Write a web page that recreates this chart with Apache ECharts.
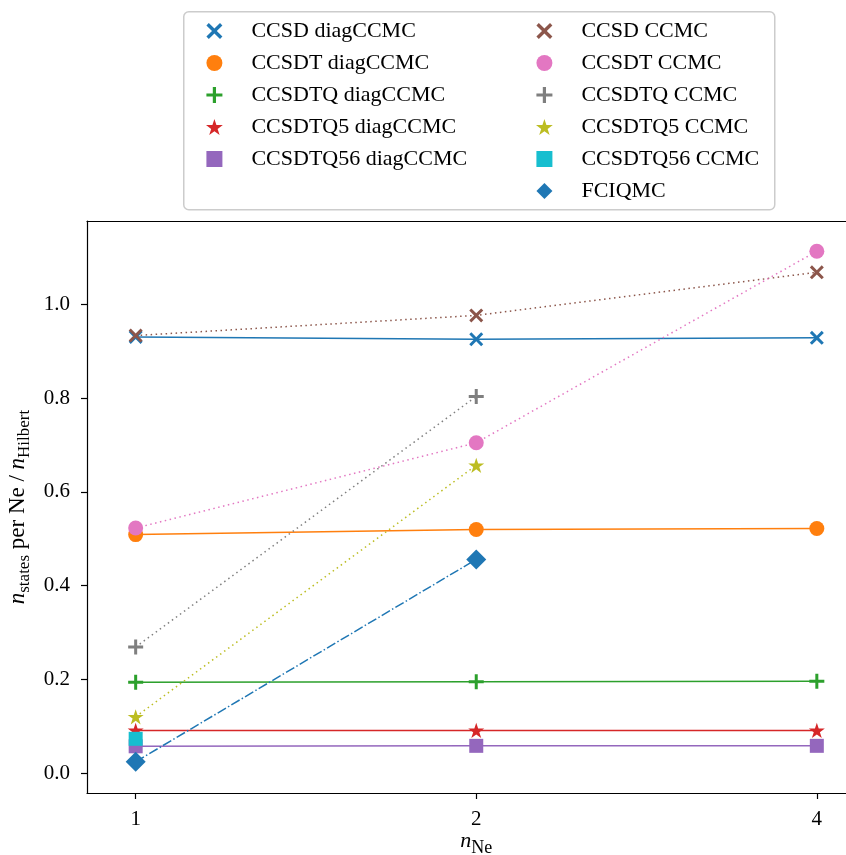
<!DOCTYPE html>
<html>
<head>
<meta charset="utf-8">
<script src="https://cdn.jsdelivr.net/npm/echarts@6/dist/echarts.min.js"></script>
<style>
html,body{margin:0;padding:0;background:#fff;}
#c{width:846px;height:855px;}
</style>
</head>
<body>
<div id="c"></div>
<script>
// ---- data ----
const nNe = [1, 2, 4];
const ccsdDiag = [0.931, 0.926, 0.929];
const ccsdtDiag = [0.509, 0.520, 0.522];
const ccsdtqDiag = [0.194, 0.195, 0.196];
const ccsdtq5Diag = [0.091, 0.091, 0.091];
const ccsdtq56Diag = [0.057, 0.058, 0.058];
const ccsdCCMC = [0.934, 0.977, 1.069];
const ccsdtCCMC = [0.523, 0.705, 1.114];
const ccsdtqCCMC = [0.269, 0.804];
const ccsdtq5CCMC = [0.120, 0.657];
const ccsdtq56CCMC = [0.073];
const fciqmc = [0.024, 0.456];
const xTicks = [1, 2, 4];
const yTicks = [0.0, 0.2, 0.4, 0.6, 0.8, 1.0];

const FONT = 'Liberation Serif';
const X_PATH = 'path://M1.5,0 L5,3.5 L8.5,0 L10,1.5 L6.5,5 L10,8.5 L8.5,10 L5,6.5 L1.5,10 L0,8.5 L3.5,5 L0,1.5 Z';
const PLUS_PATH = 'path://M4,0 H6 V4 H10 V6 H6 V10 H4 V6 H0 V4 H4 Z';
const STAR_PATH = 'path://M100,0 L122.45,69.1 L195.1,69.1 L136.3,111.8 L158.8,180.9 L100,138.2 L41.2,180.9 L63.7,111.8 L4.9,69.1 L77.55,69.1 Z';
const RECT_PATH = 'path://M0,0 H10 V10 H0 Z';
const DIAMOND_PATH = 'path://M5,0 L10,5 L5,10 L0,5 Z';
const CIRCLE_PATH = 'path://M10,5 A5,5 0 1,1 0,5 A5,5 0 1,1 10,5 Z';

function pairs(vals) { return vals.map((v, i) => [nNe[i], v]); }

const defs = [
  {name: 'CCSD diagCCMC', d: ccsdDiag, c: '#1f77b4', s: X_PATH, sz: 14, ls: 'solid'},
  {name: 'CCSDT diagCCMC', d: ccsdtDiag, c: '#ff7f0e', s: CIRCLE_PATH, sz: 15, ls: 'solid'},
  {name: 'CCSDTQ diagCCMC', d: ccsdtqDiag, c: '#2ca02c', s: PLUS_PATH, sz: 15, ls: 'solid'},
  {name: 'CCSDTQ5 diagCCMC', d: ccsdtq5Diag, c: '#d62728', s: STAR_PATH, sz: 16, ls: 'solid'},
  {name: 'CCSDTQ56 diagCCMC', d: ccsdtq56Diag, c: '#9467bd', s: RECT_PATH, sz: 14, ls: 'solid'},
  {name: 'CCSD CCMC', d: ccsdCCMC, c: '#8c564b', s: X_PATH, sz: 14, ls: [1.5, 3.5]},
  {name: 'CCSDT CCMC', d: ccsdtCCMC, c: '#e377c2', s: CIRCLE_PATH, sz: 15, ls: [1.5, 3.5]},
  {name: 'CCSDTQ CCMC', d: ccsdtqCCMC, c: '#7f7f7f', s: PLUS_PATH, sz: 15, ls: [1.5, 3.5]},
  {name: 'CCSDTQ5 CCMC', d: ccsdtq5CCMC, c: '#bcbd22', s: STAR_PATH, sz: 16, ls: [1.5, 3.5]},
  {name: 'CCSDTQ56 CCMC', d: ccsdtq56CCMC, c: '#17becf', s: RECT_PATH, sz: 14, ls: [1.5, 3.5]},
  {name: 'FCIQMC', d: fciqmc, c: '#1f77b4', s: DIAMOND_PATH, sz: 20, ls: [9.6, 2.4, 1.5, 2.4]}
];

const series = defs.map(o => ({
  name: o.name, type: 'line', data: pairs(o.d), xAxisIndex: 0,
  symbol: o.s, symbolSize: o.sz, symbolKeepAspect: true,
  showAllSymbol: true,
  itemStyle: {color: o.c, opacity: 1},
  lineStyle: {color: o.c, width: 1.5, type: o.ls},
  emphasis: {disabled: true},
  animation: false
}));

function legendData(list) {
  return list.map(o => ({name: o.name, icon: o.s, itemStyle: {color: o.c}}));
}
const legendCommon = {
  orient: 'vertical', itemWidth: 64, itemHeight: 16, itemGap: 10,
  selectedMode: false, symbolKeepAspect: true,
  textStyle: {fontFamily: FONT, fontSize: 22, color: '#000', lineHeight: 20},
  top: 15
};

const axisCommon = {
  type: 'log', logBase: 2, min: 0.9057, max: 4.4165
};

const chart = echarts.init(document.getElementById('c'), null, {renderer: 'canvas'});
chart.setOption({
  animation: false,
  backgroundColor: '#fff',
  graphic: [{
    type: 'rect', left: 183, top: 11, z: -1,
    shape: {width: 591, height: 198, r: 5},
    style: {fill: '#fff', stroke: '#cccccc', lineWidth: 1.5}
  }],
  legend: [
    Object.assign({}, legendCommon, {left: 201, data: legendData(defs.slice(0, 5))}),
    Object.assign({}, legendCommon, {left: 531, data: legendData(defs.slice(5))})
  ],
  grid: {left: 87, top: 221, width: 778.5, height: 572, show: false, outerBoundsMode: 'none', containLabel: false},
  xAxis: [Object.assign({}, axisCommon, {
    position: 'bottom',
    name: '{n|n}{sub|Ne}', nameLocation: 'middle', nameGap: 32, nameMoveOverlap: false,
    nameTextStyle: {
      rich: {
        n: {fontFamily: FONT, fontStyle: 'italic', fontSize: 22, color: '#000'},
        sub: {fontFamily: FONT, fontSize: 18, color: '#000', padding: [14, 0, 0, 0], verticalAlign: 'bottom'}
      }
    },
    axisLine: {show: true, onZero: false, lineStyle: {color: '#000', width: 1.2}},
    axisTick: {show: true, length: 6, lineStyle: {color: '#000', width: 1.2}, customValues: xTicks},
    axisLabel: {customValues: xTicks, color: '#000', fontFamily: FONT, fontSize: 21, margin: 16, formatter: v => String(Math.round(v))},
    splitLine: {show: false}, minorTick: {show: false}
  }), Object.assign({}, axisCommon, {
    position: 'top',
    axisLine: {show: true, onZero: false, lineStyle: {color: '#000', width: 1.2}},
    axisTick: {show: false}, axisLabel: {show: false}, splitLine: {show: false}
  })],
  yAxis: {
    type: 'value', min: -0.0427, max: 1.1785,
    name: '{n|n}{sub|states}{t| per Ne / }{n|n}{sub|Hilbert}', nameLocation: 'middle', nameGap: 54, nameRotate: 90, nameMoveOverlap: false,
    nameTextStyle: {
      rich: {
        n: {fontFamily: FONT, fontStyle: 'italic', fontSize: 23, color: '#000'},
        t: {fontFamily: FONT, fontSize: 23, color: '#000'},
        sub: {fontFamily: FONT, fontSize: 17, color: '#000', padding: [13, 0, 0, 0], verticalAlign: 'bottom'}
      }
    },
    axisLine: {show: true, onZero: false, lineStyle: {color: '#000', width: 1.2}},
    axisTick: {show: true, length: 6, lineStyle: {color: '#000', width: 1.2}, customValues: yTicks},
    axisLabel: {customValues: yTicks, color: '#000', fontFamily: FONT, fontSize: 21, margin: 17, formatter: v => Number(v).toFixed(1)},
    splitLine: {show: false}
  },
  series: series
});
</script>
</body>
</html>
